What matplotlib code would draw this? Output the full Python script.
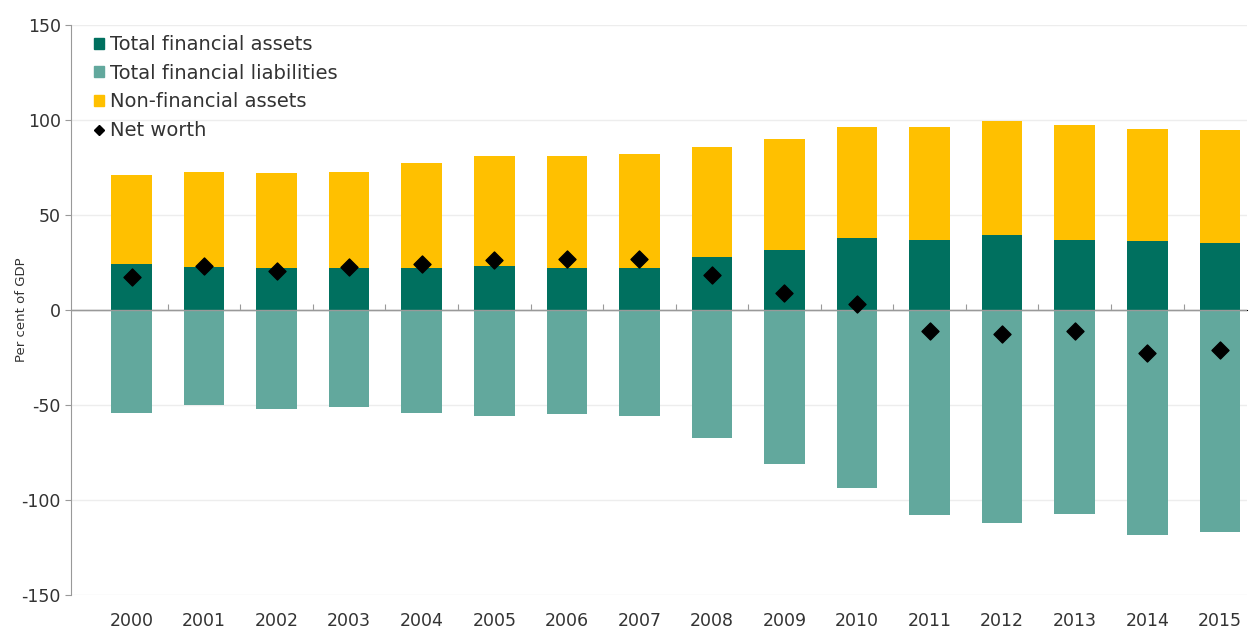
import numpy as np
import matplotlib
matplotlib.use('Agg')
import matplotlib.pyplot as plt
from matplotlib.lines import Line2D
from matplotlib.patches import Patch

years = [str(y) for y in range(2000, 2016)]
fin_assets = [24.5, 22.5, 22, 22, 22, 23.5, 22, 22, 28, 31.5, 38, 37, 39.5, 37, 36.5, 35.5]
total_assets = [71, 73, 72, 72.5, 77.5, 81, 81, 82, 86, 90, 96.5, 96.5, 99.5, 97.5, 95.5, 95]
liabilities = [-54, -50, -52, -51, -54, -55.5, -54.5, -55.5, -67.5, -81, -93.5, -108, -112, -107.5, -118.5, -117]
net_worth = [17.5, 23.5, 20.5, 22.5, 24.5, 26.5, 27, 27, 18.5, 9, 3, -11, -12.5, -11, -22.5, -21]

non_fin_assets = [t - f for t, f in zip(total_assets, fin_assets)]

c_fin = '#00705F'
c_liab = '#62A89D'
c_nonfin = '#FFC000'

plt.rcParams['font.family'] = ['DejaVu Sans']
plt.rcParams['axes.unicode_minus'] = False

fig = plt.figure(figsize=(12.6, 6.33), dpi=100)
ax = fig.add_axes([0.056, 0.06, 0.934, 0.9])

x = np.arange(len(years))
w = 0.56
ax.bar(x, fin_assets, w, color=c_fin, zorder=2)
ax.bar(x, non_fin_assets, w, bottom=fin_assets, color=c_nonfin, zorder=2)
ax.bar(x, liabilities, w, color=c_liab, zorder=2)
ax.scatter(x, net_worth, marker='D', s=75, color='black', zorder=4)

ax.set_xlim(-0.84, 15.38)
ax.set_ylim(-150, 150)
ax.set_yticks([-150, -100, -50, 0, 50, 100, 150])
ax.yaxis.grid(True, color='#EDEDED', linewidth=1, zorder=0)
ax.set_xticks(x)
ax.set_xticklabels(years)
ax.tick_params(axis='x', length=0, labelsize=12.5, pad=12, colors='#333333')
ax.tick_params(axis='y', length=4, labelsize=12.5, colors='#333333', direction='out', pad=3)
ax.tick_params(axis='y', color='#999999')
for s in ['top', 'right', 'bottom']:
    ax.spines[s].set_visible(False)
ax.spines['left'].set_color('#999999')

ax.axhline(0, color='#999999', linewidth=1, zorder=3)
zx = ax.secondary_xaxis(0.5)
zx.set_xticks(x + 0.5)
zx.set_xticklabels([])
zx.tick_params(axis='x', length=4, color='#999999', direction='out')
zx.spines['bottom'].set_visible(False)

ax.set_ylabel('Per cent of GDP', fontsize=9.5, color='#333333')
ax.yaxis.set_label_coords(-0.036, 0.5)

handles = [
    Patch(color=c_fin, label='Total financial assets'),
    Patch(color=c_liab, label='Total financial liabilities'),
    Patch(color=c_nonfin, label='Non-financial assets'),
    Line2D([], [], marker='D', color='black', linestyle='none', markersize=5, label='Net worth'),
]
leg = ax.legend(handles=handles, loc='upper left', bbox_to_anchor=(0.012, 1.0), frameon=False,
                fontsize=14, handlelength=0.5, handleheight=0.5, handletextpad=0.3,
                labelspacing=0.5, borderaxespad=0.1)
for t in leg.get_texts():
    t.set_color('#333333')

fig.savefig('out.png', dpi=100)
